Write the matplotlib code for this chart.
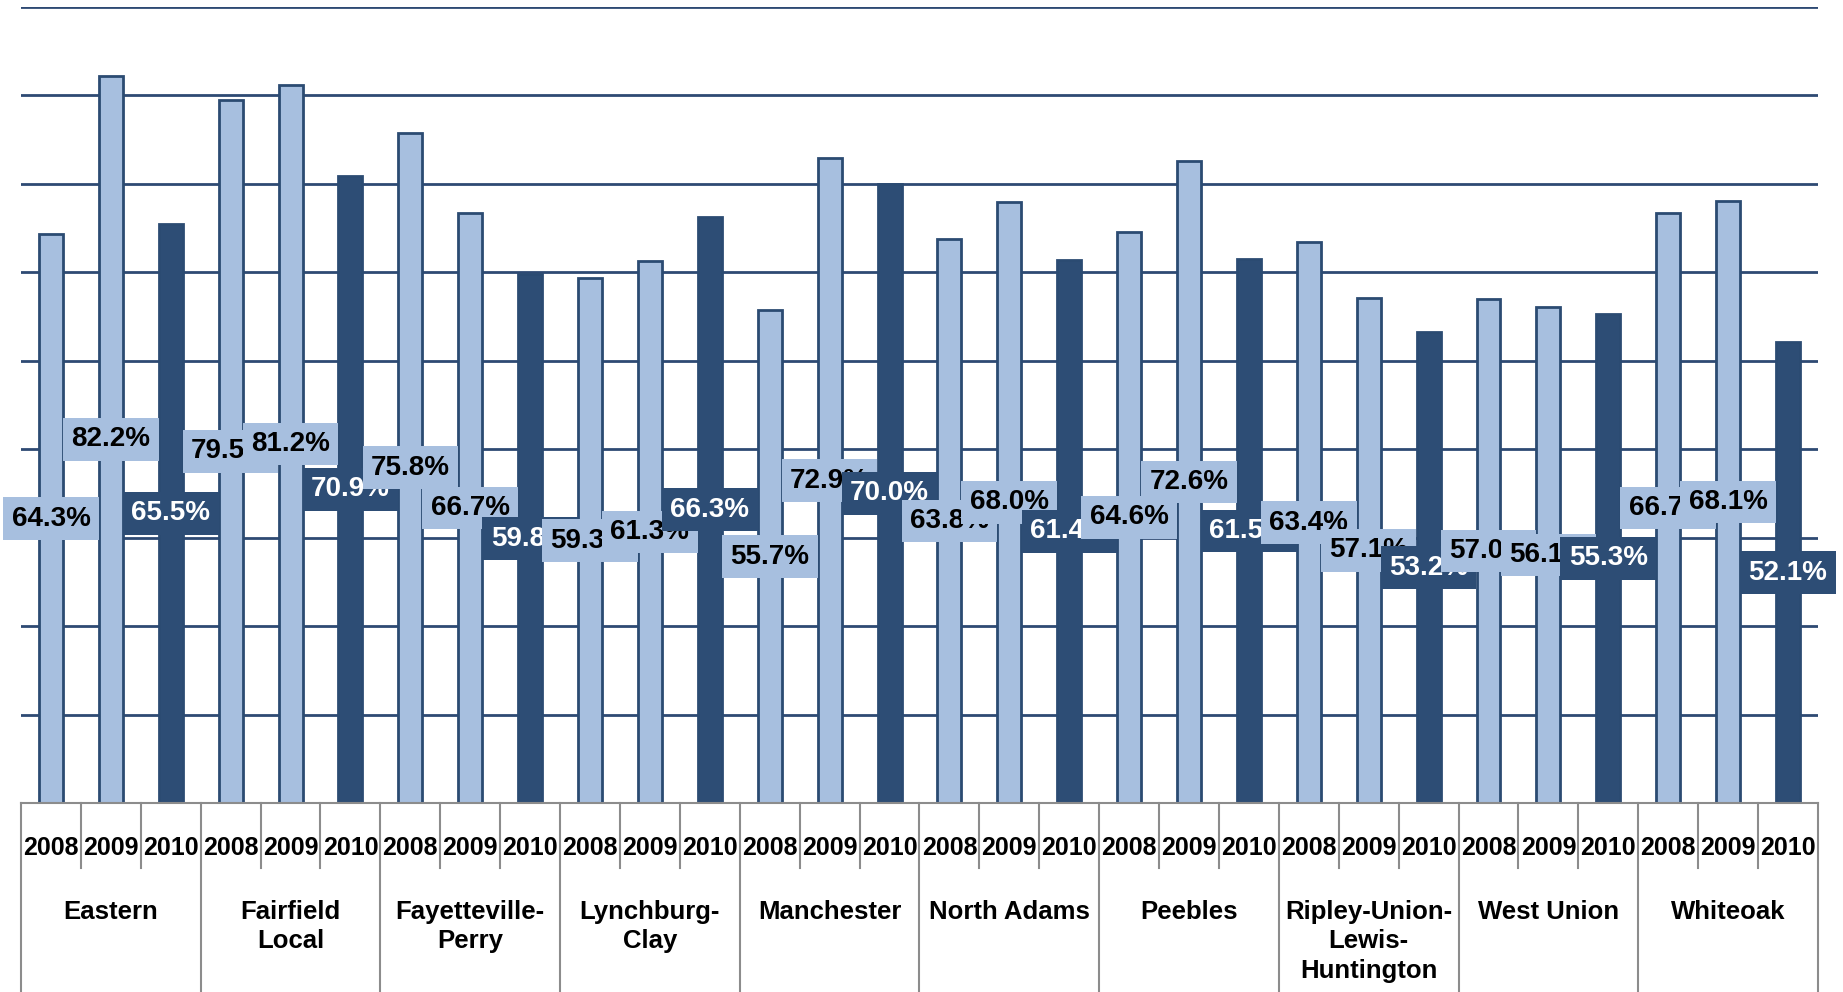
import matplotlib.pyplot as plt

plt.rcParams['font.family'] = ['Liberation Sans', 'DejaVu Sans']

schools = ["Eastern", "Fairfield\nLocal", "Fayetteville-\nPerry", "Lynchburg-\nClay",
           "Manchester", "North Adams", "Peebles", "Ripley-Union-\nLewis-\nHuntington",
           "West Union", "Whiteoak"]
years = ["2008", "2009", "2010"]

rate_2008 = [64.3, 79.5, 75.8, 59.3, 55.7, 63.8, 64.6, 63.4, 57.0, 66.7]
rate_2009 = [82.2, 81.2, 66.7, 61.3, 72.9, 68.0, 72.6, 57.1, 56.1, 68.1]
rate_2010 = [65.5, 70.9, 59.8, 66.3, 70.0, 61.4, 61.5, 53.2, 55.3, 52.1]

light = "#a7bfdf"
dark = "#2d4d75"
edge = "#2b4b72"
grid_col = "#2e4a73"
sep_col = "#8c8c8c"

fig = plt.figure(figsize=(18.43, 9.92), dpi=100)
ax = fig.add_axes([0.0114, 0.1905, 0.975, 0.8025])

# bars, one per school/year, in order
xs = []
vals = []
cols = []
for i in range(len(schools)):
    for j, series in enumerate([rate_2008, rate_2009, rate_2010]):
        xs.append(i * 3 + j)
        vals.append(series[i])
        cols.append(dark if j == 2 else light)

ax.bar(xs, vals, width=0.4, color=cols, edgecolor=edge, linewidth=2, zorder=2)

# labels in the middle of each bar, later ones sit on top of earlier ones
for k in range(len(xs)):
    tc = "white" if cols[k] == dark else "black"
    ax.text(xs[k], vals[k] / 2, "%.1f%%" % vals[k], ha="center", va="center",
            fontsize=20, fontweight="bold", color=tc, zorder=3 + k * 0.01,
            bbox=dict(boxstyle="square,pad=0.3", fc=cols[k], ec="none"))

ax.set_xlim(-0.5, 29.5)
ax.set_ylim(0, 90)
ax.set_yticks(range(10, 91, 10))
ax.yaxis.grid(True, color=grid_col, linewidth=2)
ax.set_axisbelow(True)
ax.tick_params(left=False, labelleft=False, bottom=False, labelbottom=False)
for s in ["left", "right", "top"]:
    ax.spines[s].set_visible(False)
ax.spines["bottom"].set_color(sep_col)
ax.spines["bottom"].set_linewidth(1.5)

# two-level category axis drawn below the plot
tr = ax.get_xaxis_transform()
for x in xs:
    ax.text(x, -0.057, years[x % 3], transform=tr, ha="center", va="center",
            fontsize=18, fontweight="bold", clip_on=False)
for b in range(31):
    bx = b - 0.5
    low = -0.24 if b % 3 == 0 else -0.082
    ax.plot([bx, bx], [0, low], transform=tr, color=sep_col, linewidth=1.5,
            clip_on=False)
for i, name in enumerate(schools):
    ax.text(i * 3 + 1, -0.122, name, transform=tr, ha="center", va="top",
            fontsize=18.5, fontweight="bold", linespacing=1.28, clip_on=False)

fig.savefig("out.png", dpi=100)
